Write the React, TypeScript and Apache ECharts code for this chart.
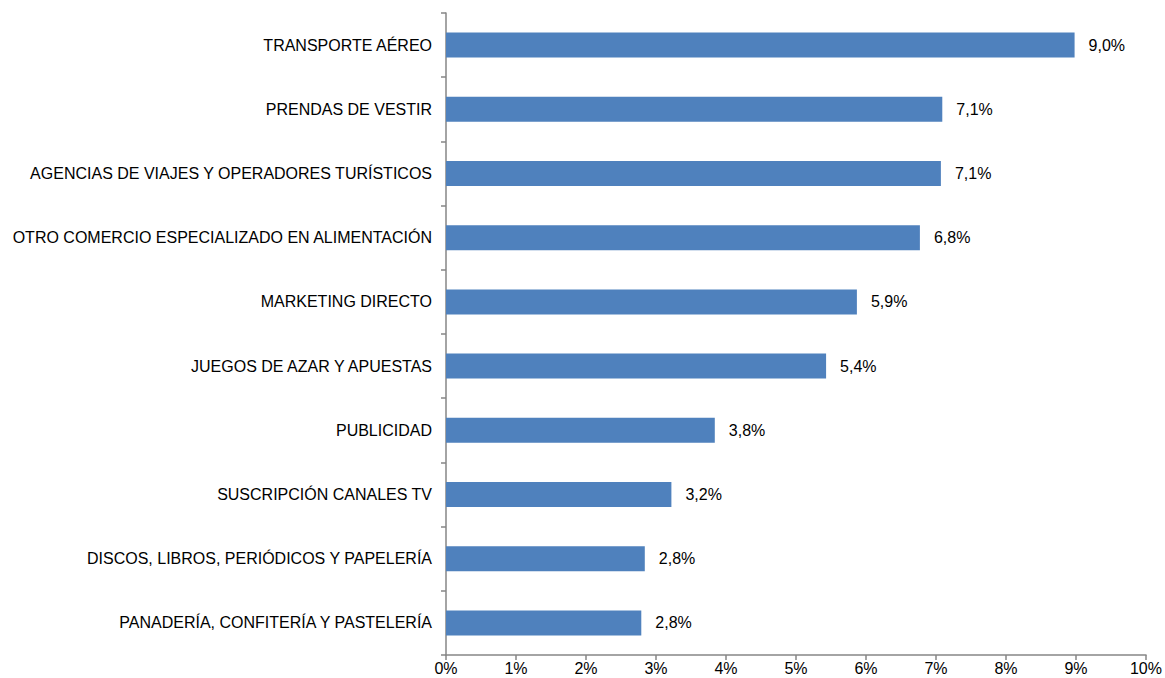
import React, { useEffect, useRef } from "react";
import * as echarts from "echarts";

const categories = [
  "TRANSPORTE AÉREO",
  "PRENDAS DE VESTIR",
  "AGENCIAS DE VIAJES Y OPERADORES TURÍSTICOS",
  "OTRO COMERCIO ESPECIALIZADO EN ALIMENTACIÓN",
  "MARKETING DIRECTO",
  "JUEGOS DE AZAR Y APUESTAS",
  "PUBLICIDAD",
  "SUSCRIPCIÓN CANALES TV",
  "DISCOS, LIBROS, PERIÓDICOS Y PAPELERÍA",
  "PANADERÍA, CONFITERÍA Y PASTELERÍA",
];
const values = [8.98, 7.09, 7.07, 6.77, 5.87, 5.43, 3.84, 3.22, 2.84, 2.79];

export default function App() {
  const ref = useRef<HTMLDivElement>(null);
  useEffect(() => {
    if (!ref.current) return;
    const chart = echarts.init(ref.current, undefined, { renderer: "svg" });
    const font = "Liberation Sans, Arial, sans-serif";
    chart.setOption({
      animation: false,
      grid: { left: 446, right: 19, top: 13, bottom: 23, containLabel: false },
      xAxis: {
        type: "value",
        min: 0,
        max: 10,
        interval: 1,
        axisLine: { show: true, lineStyle: { color: "#868686", width: 1.5 } },
        axisTick: { show: true, length: 5, lineStyle: { color: "#868686", width: 1.5 } },
        splitLine: { show: false },
        axisLabel: {
          formatter: (v: number) => `${v}%`,
          color: "#000",
          fontFamily: font,
          fontSize: 16,
          margin: 5,
        },
      },
      yAxis: {
        type: "category",
        inverse: true,
        data: categories,
        axisLine: { show: true, lineStyle: { color: "#868686", width: 1.5 } },
        axisTick: { show: true, length: 5, lineStyle: { color: "#868686", width: 1.5 } },
        axisLabel: {
          color: "#000",
          fontFamily: font,
          fontSize: 16,
          margin: 14,
        },
      },
      series: [
        {
          type: "bar",
          data: values,
          barWidth: 25,
          itemStyle: { color: "#4F81BD" },
          label: {
            show: true,
            position: "right",
            distance: 14,
            color: "#000",
            fontFamily: font,
            fontSize: 16,
            formatter: (p: any) => `${(p.value as number).toFixed(1).replace(".", ",")}%`,
          },
        },
      ],
    });
    return () => chart.dispose();
  }, []);
  return <div ref={ref} style={{ width: 1165, height: 678, position: "absolute", left: 0, top: 0 }} />;
}
